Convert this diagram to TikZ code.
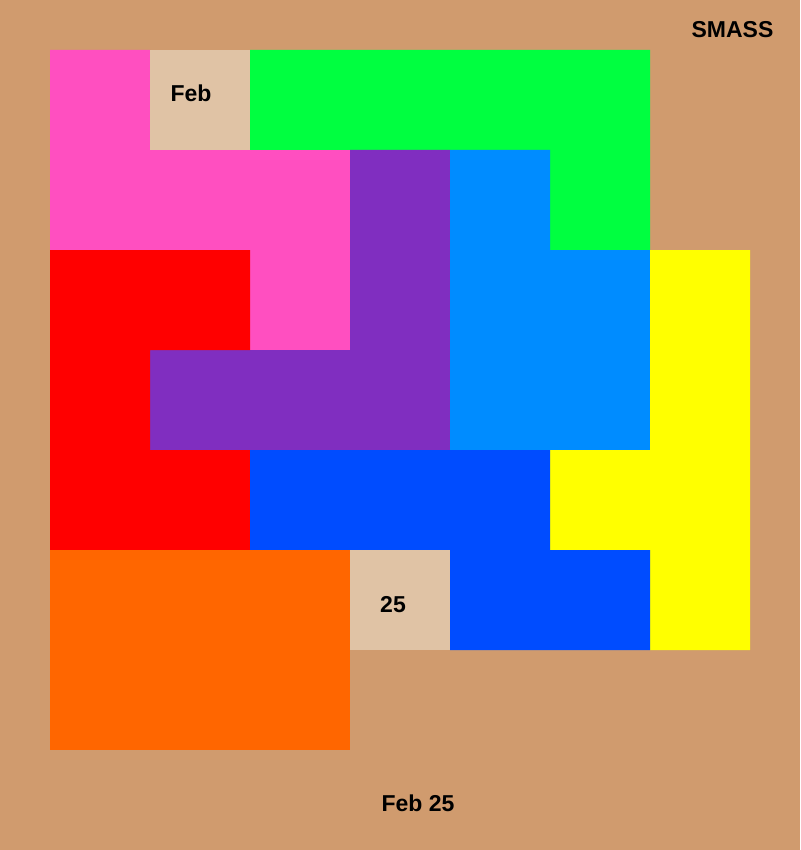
\documentclass[tikz,border=0pt]{standalone}
\usepackage{fontspec}
\setmainfont{Liberation Sans}
\definecolor{bgtan}{HTML}{D09B6E}
\definecolor{celltan}{HTML}{E0C3A5}
\definecolor{ppink}{HTML}{FF4FC0}
\definecolor{pgreen}{HTML}{00FF40}
\definecolor{ppurple}{HTML}{802EC0}
\definecolor{plblue}{HTML}{008CFF}
\definecolor{pred}{HTML}{FF0000}
\definecolor{pyellow}{HTML}{FFFF00}
\definecolor{pdblue}{HTML}{004CFF}
\definecolor{porange}{HTML}{FF6600}
\tikzset{
  lbl/.style={anchor=base, inner sep=0pt, font=\fontsize{23}{27}\selectfont\bfseries, text=black}
}
\begin{document}
\begin{tikzpicture}[x=1pt,y=-1pt]
\useasboundingbox (0,0) rectangle (800,850);
\fill[bgtan] (0,0) rectangle (800,850);
% pieces
\fill[ppink] (50,50)--(150,50)--(150,150)--(350,150)--(350,350)--(250,350)--(250,250)--(50,250)--cycle;
\fill[pgreen] (250,50)--(650,50)--(650,250)--(550,250)--(550,150)--(250,150)--cycle;
\fill[ppurple] (350,150)--(450,150)--(450,450)--(150,450)--(150,350)--(350,350)--cycle;
\fill[plblue] (450,150)--(550,150)--(550,250)--(650,250)--(650,450)--(450,450)--cycle;
\fill[pred] (50,250)--(250,250)--(250,350)--(150,350)--(150,450)--(250,450)--(250,550)--(50,550)--cycle;
\fill[pyellow] (650,250)--(750,250)--(750,650)--(650,650)--(650,550)--(550,550)--(550,450)--(650,450)--cycle;
\fill[pdblue] (250,450)--(550,450)--(550,550)--(650,550)--(650,650)--(450,650)--(450,550)--(250,550)--cycle;
\fill[porange] (50,550) rectangle (350,750);
\fill[celltan] (150,50) rectangle (250,150);
\fill[celltan] (350,550) rectangle (450,650);
% texts
\node[lbl] (feb) at (191,101.8) {Feb};
\node[lbl] (day) at (393,612.3) {25};
\node[lbl] (title) at (732.5,37.3) {SMASS};
\node[lbl] (date) at (418,811.8) {Feb 25};
\end{tikzpicture}
\end{document}
